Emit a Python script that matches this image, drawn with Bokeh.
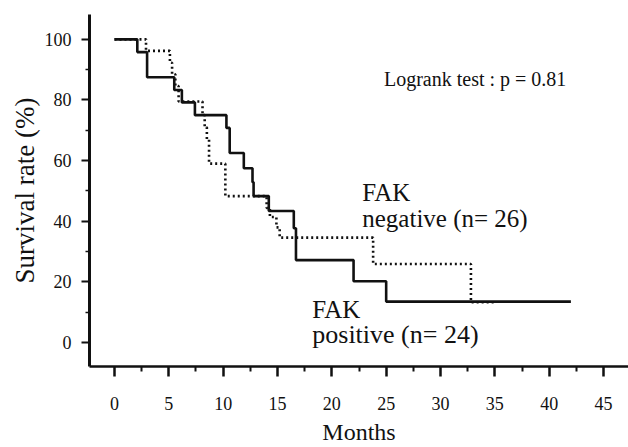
from bokeh.plotting import figure
from bokeh.models import Range1d, FixedTicker, Label
from bokeh.embed import file_html
from bokeh.resources import INLINE

# FAK positive (n=24) - solid
pos_months = [0, 2.1, 3.0, 5.5, 6.2, 7.4, 10.3, 10.6, 11.9, 12.7, 12.8, 14.2, 16.5, 16.7, 22.0, 25.0, 42.0]
pos_surv = [100, 95.8, 87.5, 83.3, 79.2, 75.0, 70.8, 62.5, 57.5, 52.9, 48.3, 43.4, 37.7, 27.2, 20.2, 13.5, 13.5]

# FAK negative (n=26) - dotted
neg_months = [0, 2.9, 5.1, 5.3, 5.6, 5.9, 8.1, 8.3, 8.5, 8.7, 10.2, 14.0, 14.3, 14.9, 15.2, 23.8, 32.8, 35.0]
neg_surv = [100, 96.2, 92.3, 88.5, 84.6, 79.5, 75.0, 71.0, 67.0, 59.0, 48.3, 44.4, 41.4, 38.0, 34.6, 25.9, 13.3, 13.3]

x_ticks = [0, 5, 10, 15, 20, 25, 30, 35, 40, 45]
x_minor = [2.5, 7.5, 12.5, 17.5, 22.5, 27.5, 32.5, 37.5, 42.5]
y_ticks = [0, 20, 40, 60, 80, 100]
y_minor = [10, 30, 50, 70, 90]

FONT = "Liberation Serif"
INK = "#111111"

p = figure(width=628, height=447, output_backend="svg", toolbar_location=None,
           x_range=Range1d(-2.3, 47.3), y_range=Range1d(-7.9, 108.2),
           min_border_left=89, min_border_right=0, min_border_top=14, min_border_bottom=79)
p.outline_line_color = None
p.xgrid.grid_line_color = None
p.ygrid.grid_line_color = None
p.background_fill_color = "white"
p.border_fill_color = "white"

p.step(pos_months, pos_surv, mode="after", line_color=INK, line_width=2.6)
p.step(neg_months, neg_surv, mode="after", line_color=INK, line_width=2.6, line_dash="2 3")

for ax in (p.xaxis[0], p.yaxis[0]):
    ax.axis_line_color = INK
    ax.major_tick_line_color = INK
    ax.minor_tick_line_color = INK
    ax.major_label_text_font = FONT
    ax.major_label_text_color = INK
    ax.axis_label_text_font = FONT
    ax.axis_label_text_color = INK
    ax.axis_label_text_font_style = "normal"
    ax.major_label_text_font_size = "18px"

xa = p.xaxis[0]
xa.ticker = FixedTicker(ticks=x_ticks, minor_ticks=x_minor)
xa.axis_line_width = 2.5
xa.major_tick_line_width = 2.5
xa.minor_tick_line_width = 2
xa.major_tick_out = 10
xa.major_tick_in = 0
xa.minor_tick_out = 5
xa.minor_tick_in = 0
xa.major_label_standoff = 20
xa.axis_label = "Months"
xa.axis_label_text_font_size = "24px"
xa.axis_label_standoff = 6

ya = p.yaxis[0]
ya.ticker = FixedTicker(ticks=y_ticks, minor_ticks=y_minor)
ya.axis_line_width = 3
ya.major_tick_line_width = 2
ya.minor_tick_line_width = 1.5
ya.major_tick_out = 8
ya.major_tick_in = 0
ya.minor_tick_out = 4
ya.minor_tick_in = 0
ya.major_label_standoff = 10
ya.axis_label = "Survival rate (%)"
ya.axis_label_text_font_size = "27px"
ya.axis_label_standoff = 2

def add_label(x, y, txt, size):
    p.add_layout(Label(x=x, y=y, text=txt, text_font=FONT, text_font_size=size,
                       text_color=INK, text_baseline="alphabetic", text_align="left"))

add_label(24.8, 86.9, "Logrank test :  p = 0.81", "20px")
add_label(22.8, 49.5, "FAK", "25px")
add_label(22.8, 41.0, "negative (n= 26)", "25px")
add_label(18.2, 10.8, "FAK", "25px")
add_label(18.2, 2.6, "positive (n= 24)", "26px")

open("out.html", "w").write(file_html(p, INLINE))
